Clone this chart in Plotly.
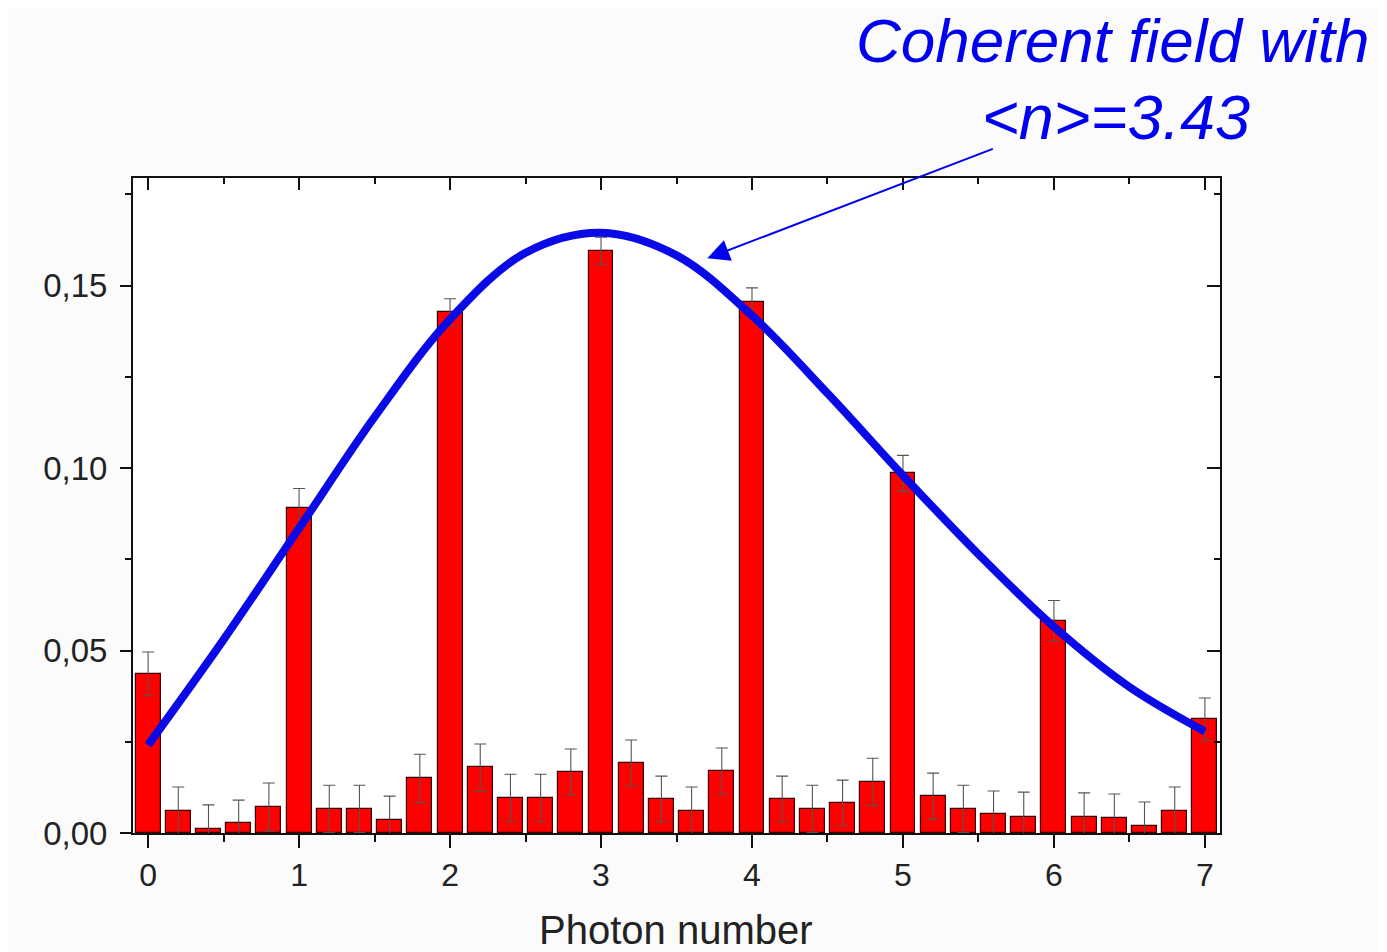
import plotly.graph_objects as go

# ---- data ----
photon_x = [0.0, 0.2, 0.4, 0.6, 0.8, 1.0, 1.2, 1.4, 1.6, 1.8,
            2.0, 2.2, 2.4, 2.6, 2.8, 3.0, 3.2, 3.4, 3.6, 3.8,
            4.0, 4.2, 4.4, 4.6, 4.8, 5.0, 5.2, 5.4, 5.6, 5.8,
            6.0, 6.2, 6.4, 6.6, 6.8, 7.0]
prob = [0.0436, 0.0060, 0.0011, 0.0027, 0.0071, 0.0892, 0.0066, 0.0066, 0.0036, 0.0150,
        0.1427, 0.0180, 0.0096, 0.0096, 0.0167, 0.1596, 0.0192, 0.0093, 0.0061, 0.0170,
        0.1456, 0.0093, 0.0066, 0.0082, 0.0140, 0.0986, 0.0101, 0.0066, 0.0052, 0.0045,
        0.0581, 0.0045, 0.0040, 0.0020, 0.0060, 0.0312]
prob_err = [0.0060, 0.0066, 0.0066, 0.0063, 0.0066, 0.0052, 0.0065, 0.0065, 0.0065, 0.0066,
            0.0037, 0.0064, 0.0065, 0.0065, 0.0063, 0.0037, 0.0063, 0.0063, 0.0065, 0.0063,
            0.0038, 0.0063, 0.0065, 0.0063, 0.0065, 0.0049, 0.0063, 0.0065, 0.0063, 0.0067,
            0.0056, 0.0065, 0.0067, 0.0065, 0.0066, 0.0058]

fit_x = [0.0, 0.5, 1.0, 1.5, 2.0, 2.5, 3.0, 3.5, 4.0, 4.5, 5.0, 5.5, 6.0, 6.5, 7.0]
fit_y = [0.0241, 0.0530, 0.0835, 0.1140, 0.1408, 0.1590, 0.1645, 0.1583, 0.1418,
         0.1205, 0.0980, 0.0764, 0.0565, 0.0400, 0.0278]

x_ticks = [0, 1, 2, 3, 4, 5, 6, 7]
y_ticks = [0.0, 0.05, 0.10, 0.15]

x_range = [-0.1, 7.1]
y_range = [0.0, 0.1795]

FONT = "Liberation Sans, Arial, sans-serif"
TXT = "#222222"
BLUE = "#0000f0"

fig = go.Figure()

fig.add_trace(go.Bar(
    x=photon_x, y=prob, width=0.165,
    marker=dict(color="#ff0000", line=dict(color="#3a0000", width=1.2)),
    error_y=dict(type="data", array=prob_err, visible=True,
                 color="#555555", thickness=1.1, width=6),
    showlegend=False, hoverinfo="skip",
))

fig.add_trace(go.Scatter(
    x=fit_x, y=fit_y, mode="lines",
    line=dict(color="#0a0ae6", width=8, shape="spline", smoothing=1.0),
    showlegend=False, hoverinfo="skip",
))

# invisible trace for the mirrored (top/right) axes
fig.add_trace(go.Scatter(x=[x_range[0]], y=[y_range[0]], xaxis="x2", yaxis="y2",
                         mode="markers", marker=dict(opacity=0), showlegend=False,
                         hoverinfo="skip"))

# the page body adds an 8px margin: figure is 8px smaller, margins 8px smaller
fig.update_layout(
    width=1379, height=944,
    margin=dict(l=125, r=167, t=170, b=119),
    paper_bgcolor="#fbfbfb", plot_bgcolor="#ffffff",
    separators=", ",
    font=dict(family=FONT, color=TXT, size=32),
    xaxis=dict(range=x_range, tickmode="array", tickvals=x_ticks,
               ticks="outside", ticklen=13, tickwidth=2, tickcolor="#111",
               showline=True, linecolor="#111", linewidth=2,
               showgrid=False, zeroline=False,
               tickfont=dict(size=32, color=TXT),
               minor=dict(dtick=0.5, tick0=0, ticks="outside", ticklen=7,
                          tickwidth=2, tickcolor="#111", showgrid=False)),
    yaxis=dict(range=y_range, tickmode="array", tickvals=y_ticks,
               tickformat=".2f",
               ticks="outside", ticklen=11, tickwidth=2, tickcolor="#111",
               showline=True, linecolor="#111", linewidth=2,
               showgrid=False, zeroline=False,
               tickfont=dict(size=33, color=TXT), ticklabelstandoff=6,
               minor=dict(dtick=0.025, tick0=0, ticks="outside", ticklen=6,
                          tickwidth=2, tickcolor="#111", showgrid=False)),
    xaxis2=dict(range=x_range, overlaying="x", side="top", anchor="y",
                tickmode="array", tickvals=x_ticks, showticklabels=False,
                ticks="inside", ticklen=12, tickwidth=2, tickcolor="#111",
                showline=True, linecolor="#111", linewidth=2,
                showgrid=False, zeroline=False,
                minor=dict(dtick=0.5, tick0=0, ticks="inside", ticklen=6,
                           tickwidth=2, tickcolor="#111", showgrid=False)),
    yaxis2=dict(range=y_range, overlaying="y", side="right", anchor="x",
                tickmode="array", tickvals=y_ticks, showticklabels=False,
                ticks="inside", ticklen=13, tickwidth=2, tickcolor="#111",
                showline=True, linecolor="#111", linewidth=2,
                showgrid=False, zeroline=False,
                minor=dict(dtick=0.025, tick0=0, ticks="inside", ticklen=6,
                           tickwidth=2, tickcolor="#111", showgrid=False)),
    bargap=0,
)

PW = 1220 - 133
PH = 833 - 178

# axis title
fig.add_annotation(text="Photon number", xref="paper", yref="paper",
                   x=(676 - 133) / PW, y=(833 - 930) / PH,
                   showarrow=False, xanchor="center", yanchor="middle",
                   font=dict(family=FONT, size=40, color=TXT))

# annotation text
fig.add_annotation(text="<i>Coherent field with</i>", xref="paper", yref="paper",
                   x=(1113 - 133) / PW, y=(833 - 40) / PH,
                   showarrow=False, xanchor="center", yanchor="middle",
                   font=dict(family=FONT, size=62, color=BLUE))
fig.add_annotation(text="<i>&lt;n&gt;=3.43</i>", xref="paper", yref="paper",
                   x=(1116 - 133) / PW, y=(833 - 117) / PH,
                   showarrow=False, xanchor="center", yanchor="middle",
                   font=dict(family=FONT, size=63, color=BLUE))

# arrow
fig.add_annotation(text="", x=3.704, y=0.1575, xref="x", yref="y",
                   ax=287, ay=-110, axref="pixel", ayref="pixel",
                   showarrow=True, arrowhead=2, arrowsize=2.2, arrowwidth=2,
                   arrowcolor=BLUE)

fig.write_html("out.html")
